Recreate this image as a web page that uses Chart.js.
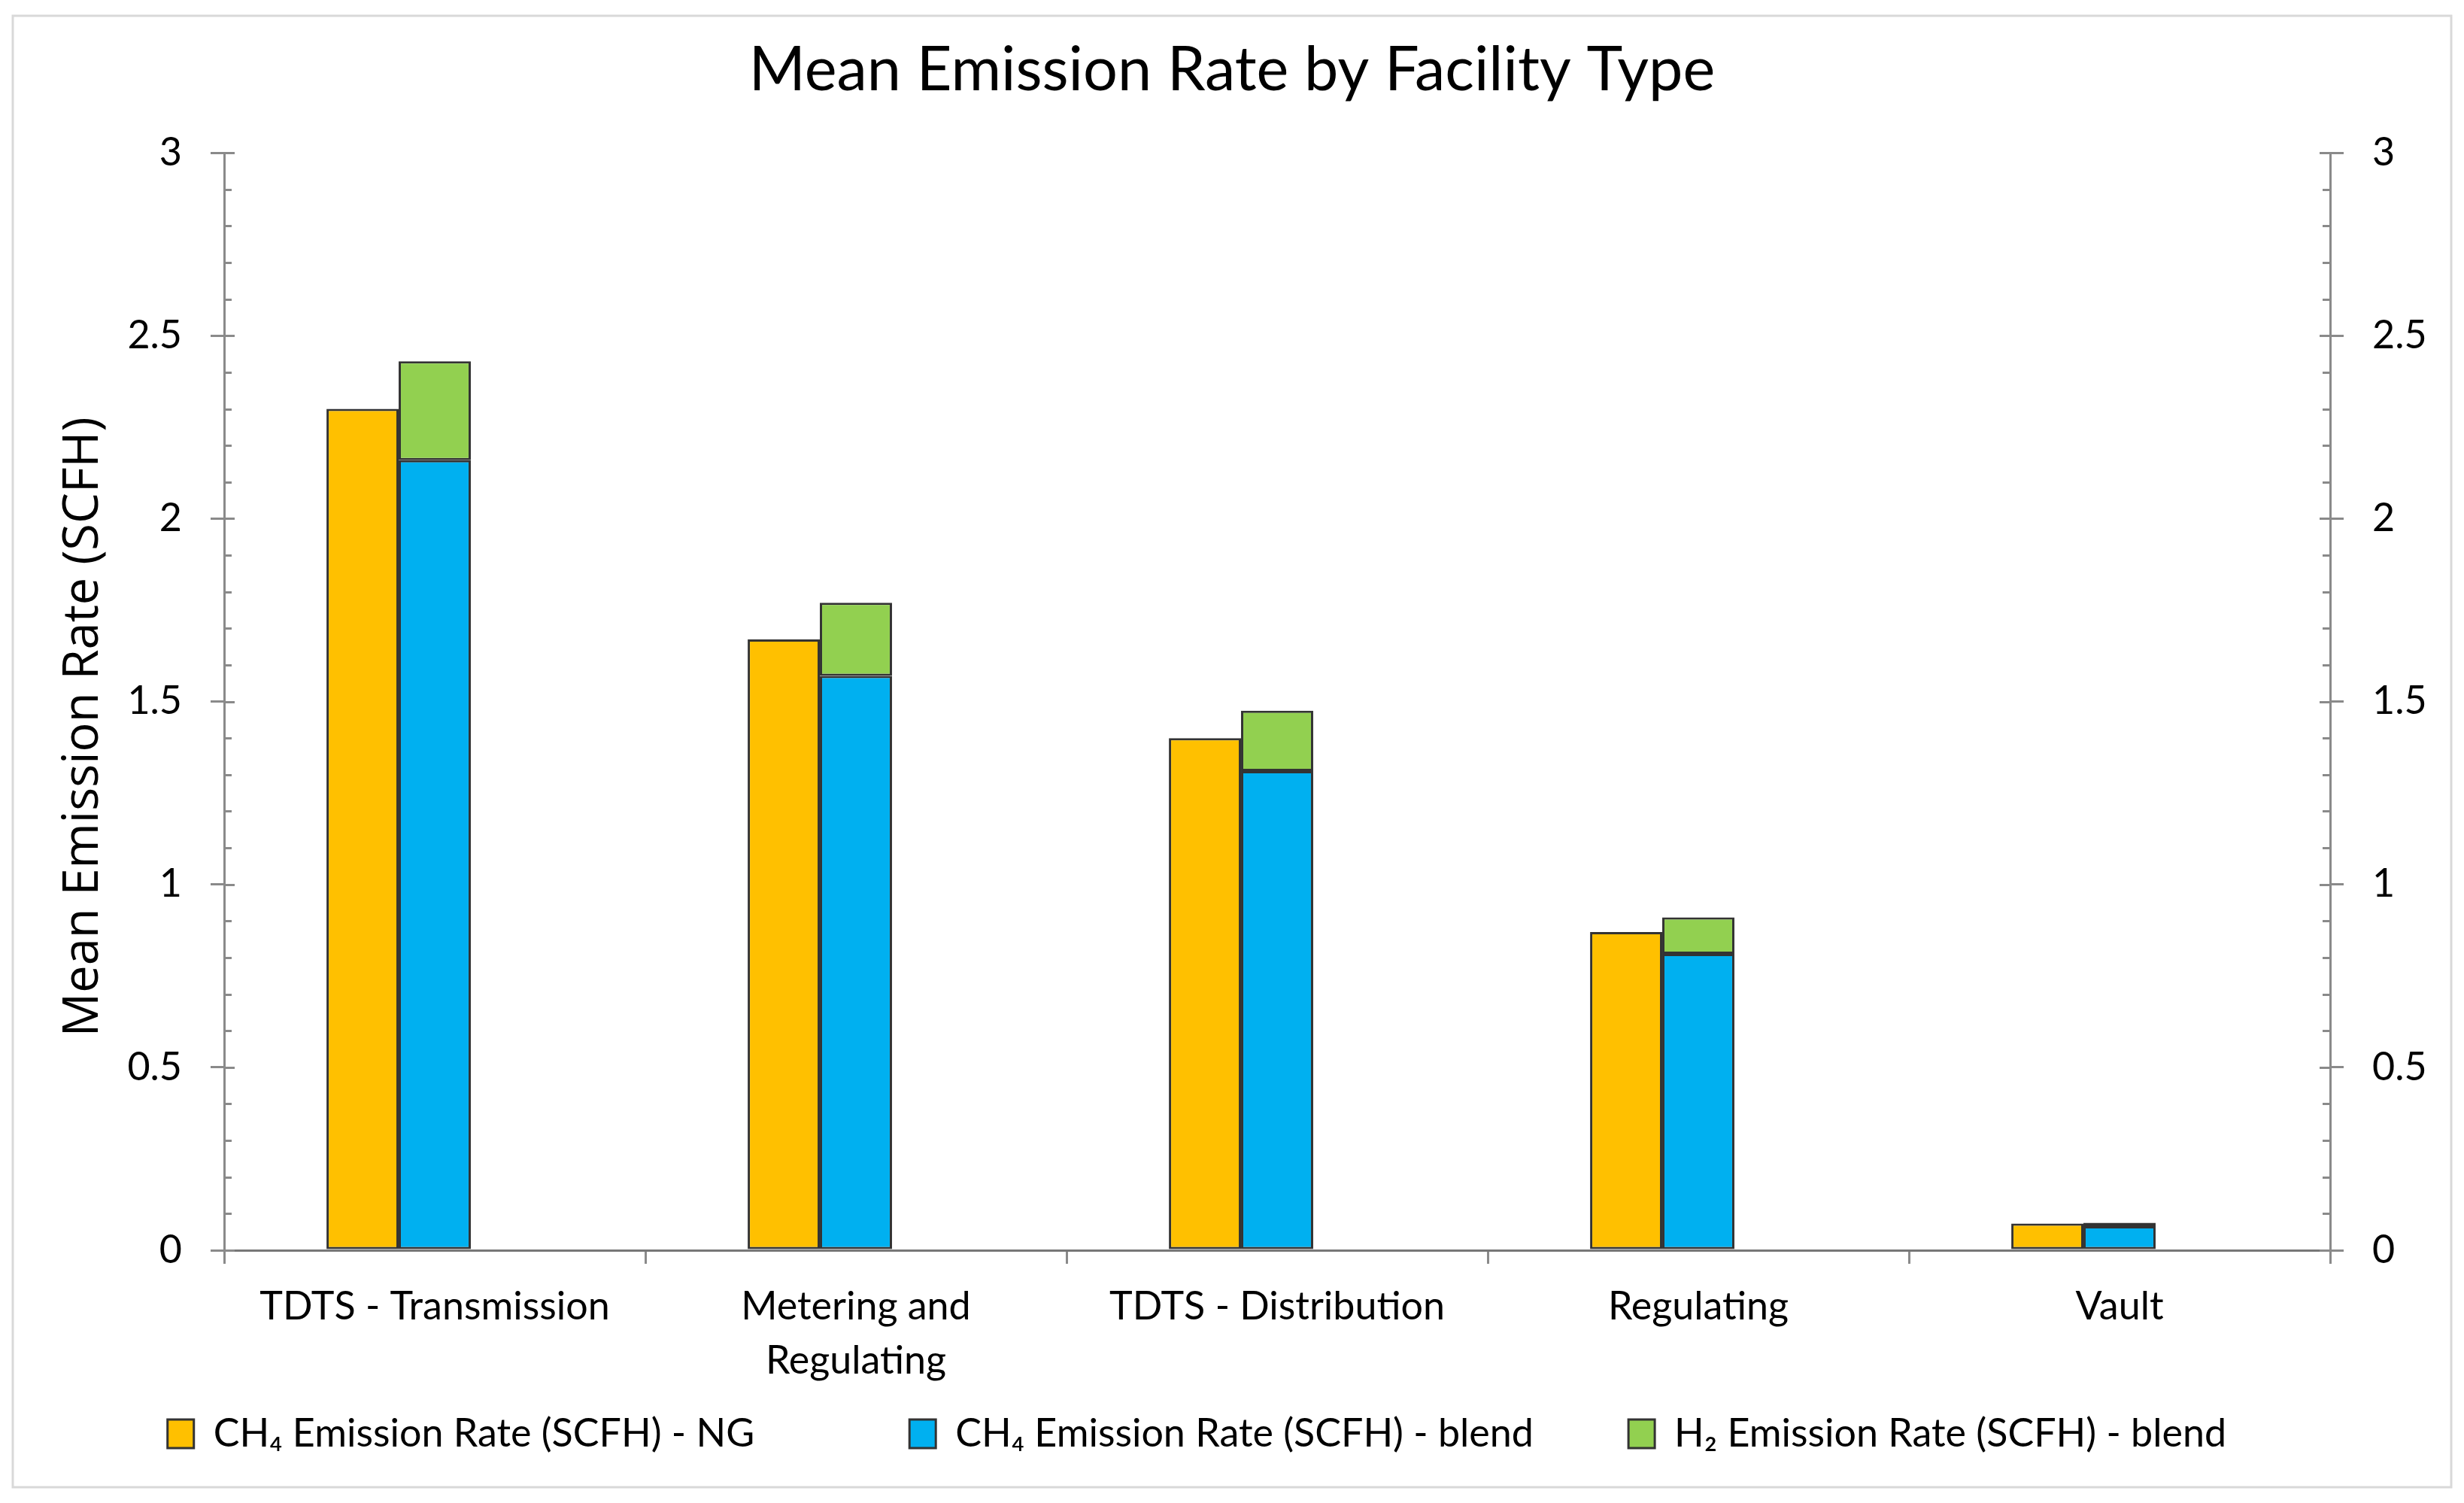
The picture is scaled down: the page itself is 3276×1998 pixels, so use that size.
<!DOCTYPE html>
<html>
<head>
<meta charset="utf-8">
<title>Mean Emission Rate by Facility Type</title>
<script src="https://cdn.jsdelivr.net/npm/chart.js@4.4.1/dist/chart.umd.min.js"></script>
<style>
    html, body { margin: 0; padding: 0; background: #fff; overflow: hidden; }
    canvas { display: block; }
</style>
</head>
<body>
<canvas id="emissionChart" width="3276" height="1998"></canvas>
<script>
// Chart data
const facilityTypes = ['TDTS - Transmission', ['Metering and', 'Regulating'], 'TDTS - Distribution', 'Regulating', 'Vault'];
const ch4RateNG = [2.30, 1.67, 1.40, 0.87, 0.073];
const ch4RateBlend = [2.16, 1.57, 1.31, 0.81, 0.066];
const h2RateBlend = [0.27, 0.20, 0.165, 0.10, 0.009];
const emptySlot = [null, null, null, null, null];
const yTickValues = [0, 0.5, 1, 1.5, 2, 2.5, 3];

const baseFont = 'Lato, "Liberation Sans", sans-serif';
const edgeColor = '#333333';
const axisColor = '#8a8a8a';
// Excel spreads the legend entries in equal columns; pad the entries to get the same gaps
const legendSpacing = [13, 7, 7];

Chart.defaults.color = '#000';
Chart.defaults.font.family = baseFont;

// Light frame around the whole chart, like the Excel chart area
const chartFrame = {
    id: 'chartFrame',
    beforeDraw(chart) {
        const c = chart.ctx;
        c.save();
        c.fillStyle = '#fff';
        c.fillRect(0, 0, chart.width, chart.height);
        c.strokeStyle = '#d9d9d9';
        c.lineWidth = 3;
        c.strokeRect(17, 21, chart.width - 34, chart.height - 42);
        c.restore();
    }
};

// Inner tick marks (minor every 0.1) on both value axes
const innerTicks = {
    id: 'innerTicks',
    afterDraw(chart) {
        const c = chart.ctx;
        const area = chart.chartArea;
        const scale = chart.scales.y;
        c.save();
        c.strokeStyle = axisColor;
        c.lineWidth = 3;
        for (let i = 0; i <= 30; i++) {
            const py = Math.round(scale.getPixelForValue(i / 10)) + 0.5;
            const len = i % 5 === 0 ? 14 : 10;
            c.beginPath();
            c.moveTo(area.left, py);
            c.lineTo(area.left + len, py);
            c.moveTo(area.right, py);
            c.lineTo(area.right - len, py);
            c.stroke();
        }
        c.restore();
    }
};

const yAxisBase = {
    min: 0,
    max: 3,
    afterBuildTicks: scale => {
        scale.ticks = yTickValues.map(v => ({ value: v }));
    },
    border: { display: true, color: axisColor, width: 3 },
    grid: { drawOnChartArea: false, drawTicks: true, tickLength: 18, color: axisColor, lineWidth: 3 },
    ticks: {
        padding: 38,
        font: { size: 52, family: baseFont },
        color: '#000',
        callback: value => String(value)
    }
};

new Chart(document.getElementById('emissionChart').getContext('2d'), {
    type: 'bar',
    data: {
        labels: facilityTypes,
        datasets: [
            {
                label: 'CH\u2084 Emission Rate (SCFH) - NG',
                data: ch4RateNG,
                stack: 'ng',
                backgroundColor: '#FFC000',
                borderColor: edgeColor,
                borderWidth: 3,
                borderSkipped: false
            },
            {
                label: 'CH\u2084 Emission Rate (SCFH) - blend',
                data: ch4RateBlend,
                stack: 'blend',
                backgroundColor: '#00B0F0',
                borderColor: edgeColor,
                borderWidth: 3,
                borderSkipped: false
            },
            {
                label: 'H\u2082 Emission Rate (SCFH) - blend',
                data: h2RateBlend,
                stack: 'blend',
                backgroundColor: '#92D050',
                borderColor: edgeColor,
                borderWidth: 3,
                borderSkipped: false
            },
            {
                // empty third slot in each group, keeps the bars left of centre
                label: '',
                data: emptySlot,
                stack: 'spare',
                backgroundColor: 'rgba(0,0,0,0)',
                borderWidth: 0
            }
        ]
    },
    options: {
        responsive: false,
        devicePixelRatio: 1,
        animation: false,
        categoryPercentage: 0.514,
        barPercentage: 1.0,
        layout: { padding: { left: 0, right: 0, top: 0, bottom: 56 } },
        plugins: {
            title: {
                display: true,
                text: 'Mean Emission Rate by Facility Type',
                color: '#000',
                font: { size: 81, weight: 'normal', family: baseFont, lineHeight: 1.2 },
                padding: { top: 45, bottom: 61 }
            },
            legend: {
                position: 'bottom',
                labels: {
                    filter: item => item.text.trim() !== '',
                    generateLabels: chart => {
                        const items = Chart.defaults.plugins.legend.labels.generateLabels(chart);
                        items.forEach((item, i) => {
                            if (i < legendSpacing.length) {
                                item.text += ' '.repeat(legendSpacing[i]);
                            }
                        });
                        return items;
                    },
                    boxWidth: 35,
                    boxHeight: 38,
                    padding: 33,
                    color: '#000',
                    font: { size: 52, family: baseFont }
                }
            },
            tooltip: { enabled: false }
        },
        scales: {
            x: {
                stacked: true,
                afterFit: scale => { scale.height = 185; },
                border: { display: true, color: '#777', width: 3 },
                grid: { offset: true, drawOnChartArea: false, drawTicks: true, tickLength: 18, color: axisColor, lineWidth: 3 },
                ticks: { padding: 22, maxRotation: 0, autoSkip: false, font: { size: 52, family: baseFont, lineHeight: 1.37 }, color: '#000' }
            },
            y: Object.assign({}, yAxisBase, {
                position: 'left',
                stacked: true,
                afterFit: scale => { scale.width = 298; },
                title: {
                    display: true,
                    // trailing spaces nudge the centred title a little down, as in the original
                    text: 'Mean Emission Rate (SCFH)    ',
                    color: '#000',
                    font: { size: 65, family: '"Open Sans", sans-serif' },
                    padding: { top: 72, bottom: 0 }
                }
            }),
            y2: Object.assign({}, yAxisBase, {
                position: 'right',
                afterFit: scale => { scale.width = 178; }
            })
        }
    },
    plugins: [chartFrame, innerTicks]
});
</script>
</body>
</html>
